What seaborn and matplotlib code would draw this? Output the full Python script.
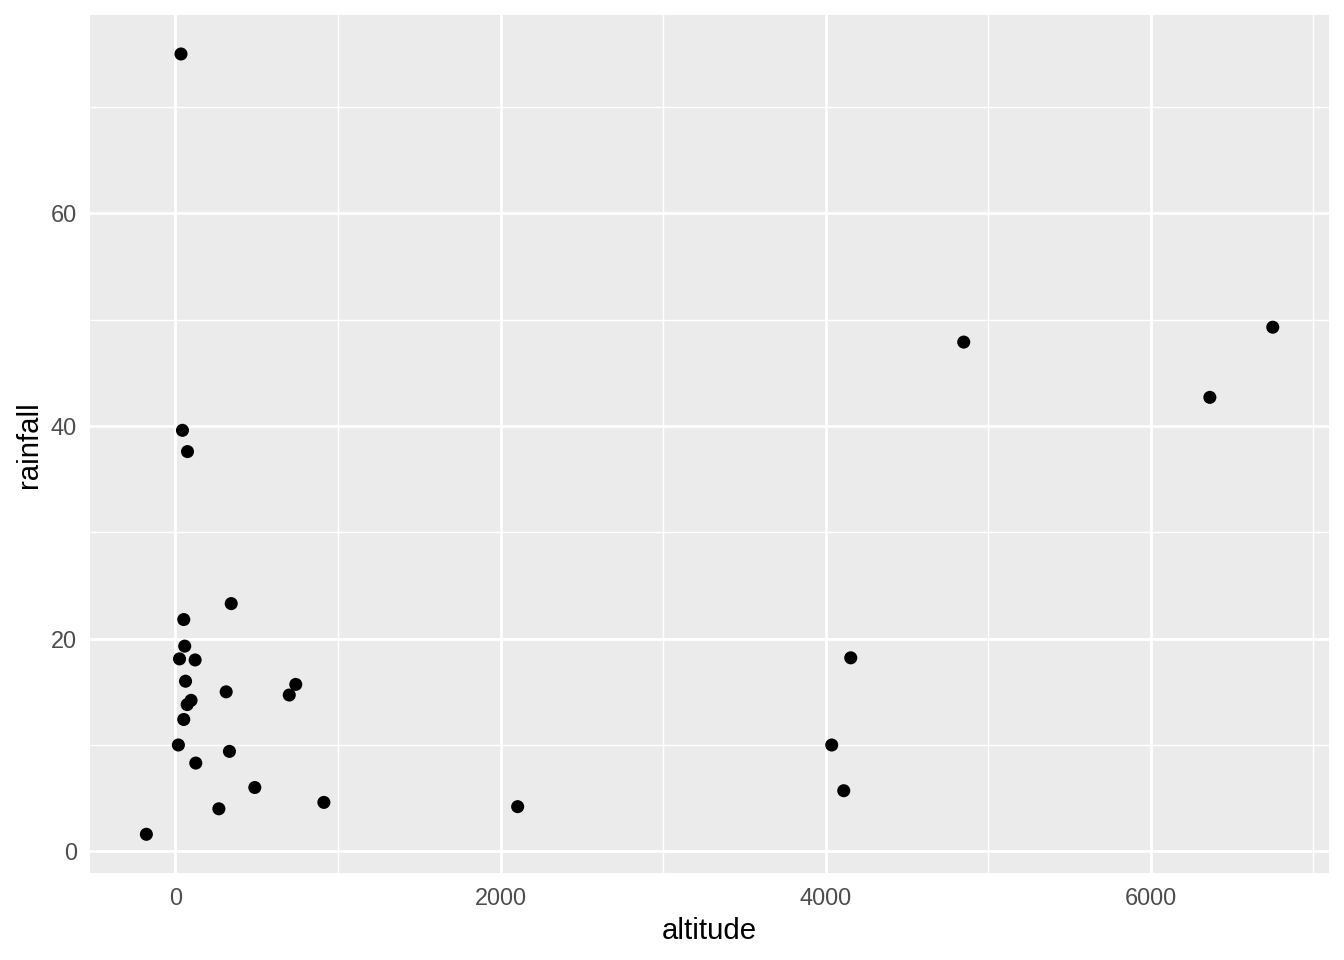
import seaborn as sns
from matplotlib import pyplot as plt
from matplotlib.ticker import MultipleLocator
import pandas as pd

# values
altitude = [343, 51, 57, 25, 121, 62, 312, 740, 700, 96, 72, 51, 18, 332, 125,
            488, 913, 267, -179, 34, 43, 74, 2105, 4037, 4111, 4154, 4849, 6363, 6750]
rainfall = [23.3, 21.8, 19.3, 18.1, 18.0, 16.0, 15.0, 15.7, 14.7, 14.2, 13.8, 12.4, 10.0, 9.4, 8.3,
            6.0, 4.6, 4.0, 1.6, 75.0, 39.6, 37.6, 4.2, 10.0, 5.7, 18.2, 47.9, 42.7, 49.3]

df = pd.DataFrame({'altitude': altitude, 'rainfall': rainfall})

sns.set_style("darkgrid", {
    'axes.facecolor': '#EBEBEB',
    'grid.color': 'white',
    'axes.edgecolor': '#EBEBEB',
})
plt.rcParams['font.family'] = ['Liberation Sans', 'DejaVu Sans']

fig = plt.figure(figsize=(7, 5), dpi=192)
ax = fig.add_axes([0.067, 0.0903, 0.9219, 0.8941])

sns.scatterplot(data=df, x='altitude', y='rainfall', ax=ax, color='black',
                s=24, edgecolor='none', linewidth=0, zorder=3)

# ggplot style 5% expansion
xr = max(altitude) - min(altitude)
yr = max(rainfall) - min(rainfall)
ax.set_xlim(min(altitude) - 0.05 * xr, max(altitude) + 0.05 * xr)
ax.set_ylim(min(rainfall) - 0.05 * yr, max(rainfall) + 0.05 * yr)

ax.xaxis.set_major_locator(MultipleLocator(2000))
ax.xaxis.set_minor_locator(MultipleLocator(1000))
ax.yaxis.set_major_locator(MultipleLocator(20))
ax.yaxis.set_minor_locator(MultipleLocator(10))
ax.grid(which='major', color='white', linewidth=1.07)
ax.grid(which='minor', color='white', linewidth=0.53)
ax.set_axisbelow(True)
for sp in ax.spines.values():
    sp.set_visible(False)

ax.tick_params(which='major', length=2.75, width=1.07, color='#333333',
               labelsize=8.8, labelcolor='#4D4D4D', pad=2.2)
ax.tick_params(which='minor', length=0)
ax.set_xlabel('altitude', fontsize=11, color='black', labelpad=2.75)
ax.set_ylabel('rainfall', fontsize=11, color='black', labelpad=2.75)

fig.savefig('out.png', dpi=192)
